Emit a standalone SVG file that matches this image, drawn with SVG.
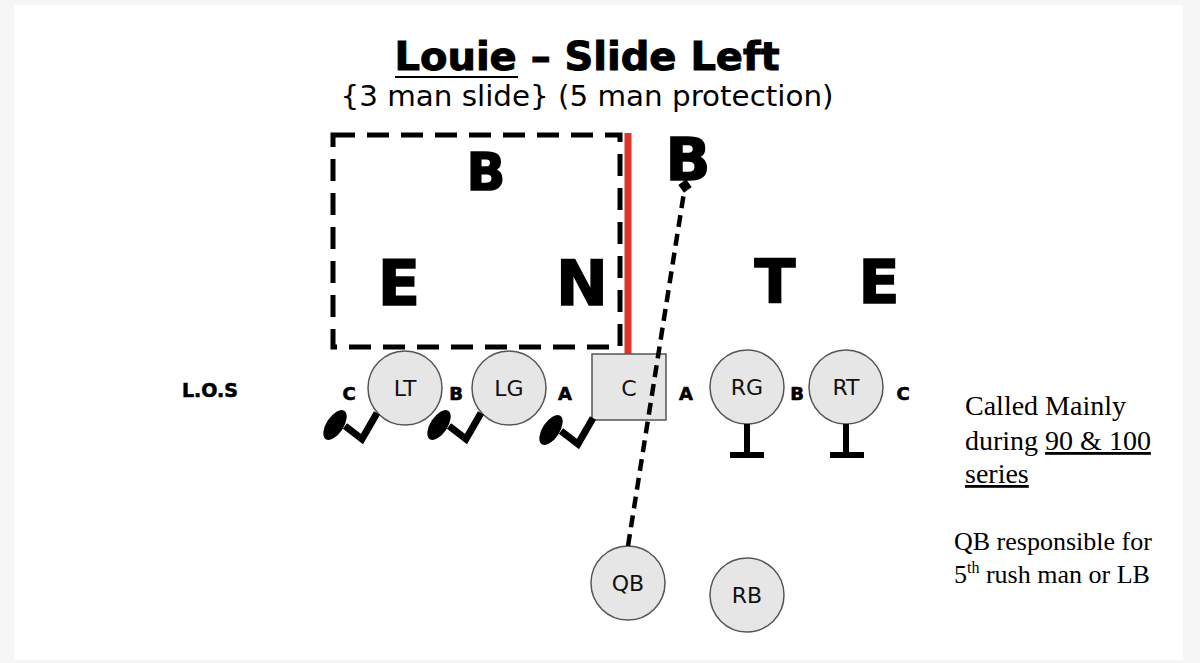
<svg xmlns="http://www.w3.org/2000/svg" width="1200" height="663" viewBox="0 0 1200 663">
<defs>
<style>
.big{font-family:"DejaVu Sans",sans-serif;font-weight:bold;text-anchor:middle;fill:#000;stroke:#000;stroke-width:1.5}
.gap{font-family:"DejaVu Sans",sans-serif;font-weight:bold;font-size:18px;text-anchor:middle;fill:#000;stroke:#000;stroke-width:0.6}
.lbl{font-family:"DejaVu Sans",sans-serif;font-size:22px;text-anchor:middle;fill:#111}
.note{font-family:"Liberation Serif",serif;font-size:28px;fill:#000}
.note2{font-family:"Liberation Serif",serif;font-size:26px;fill:#000}
.pl{fill:#e6e6e6;stroke:#555;stroke-width:1.5}
.blk{fill:none;stroke:#000;stroke-width:7;stroke-linejoin:miter}
</style>
<marker id="dia" viewBox="0 0 10 10" refX="5" refY="5" markerWidth="3" markerHeight="3" orient="auto">
<path d="M0 5 L5 0 L10 5 L5 10 Z" fill="#000"/>
</marker>
<g id="reach">
<path class="blk" d="M0 0 L-15 26 L-32 13"/>
<ellipse cx="-42" cy="12" rx="8.5" ry="17" transform="rotate(33 -42 12)" fill="#000"/>
</g>
</defs>
<rect width="1200" height="663" fill="#f6f6f6"/>
<rect x="14" y="5" width="1169" height="655" fill="#fff"/>

<g id="title">
<text x="587" y="70" font-family="DejaVu Sans,sans-serif" font-weight="bold" font-size="39" text-anchor="middle" textLength="385" lengthAdjust="spacingAndGlyphs" stroke="#000" stroke-width="1">Louie – Slide Left</text>
<line x1="395" y1="77" x2="518" y2="77" stroke="#000" stroke-width="2"/>
<text x="587" y="106" font-family="DejaVu Sans,sans-serif" font-size="29" text-anchor="middle" textLength="493" lengthAdjust="spacingAndGlyphs">{3 man slide} (5 man protection)</text>
</g>

<g id="slide-zone">
<rect x="333" y="135" width="287" height="212" fill="none" stroke="#000" stroke-width="5" stroke-dasharray="22 12"/>
<line x1="628" y1="133" x2="628" y2="354" stroke="#e0352b" stroke-width="7"/>
</g>

<g id="defense">
<text class="big" x="486" y="190" style="font-size:51px">B</text>
<text class="big" x="399" y="305" style="font-size:62px">E</text>
<text class="big" x="582" y="305" style="font-size:62px">N</text>
<text class="big" x="688" y="180" style="font-size:59px">B</text>
<text class="big" x="775" y="303" style="font-size:60px">T</text>
<text class="big" x="879" y="303" style="font-size:60px">E</text>
</g>

<g id="gaps">
<text class="gap" x="210" y="397" style="font-size:19px">L.O.S</text>
<text class="gap" x="349" y="400">C</text>
<text class="gap" x="456" y="400">B</text>
<text class="gap" x="565" y="400">A</text>
<text class="gap" x="686" y="400">A</text>
<text class="gap" x="797" y="400">B</text>
<text class="gap" x="903" y="400">C</text>
</g>

<g id="LT"><circle class="pl" cx="405" cy="388" r="37"/><text class="lbl" x="405" y="396">LT</text></g>
<g id="LG"><circle class="pl" cx="509" cy="388" r="37"/><text class="lbl" x="509" y="396">LG</text></g>
<g id="C"><rect class="pl" x="592" y="354" width="74" height="66"/><text class="lbl" x="629" y="396">C</text></g>
<g id="RG"><circle class="pl" cx="747" cy="387" r="37"/><text class="lbl" x="747" y="395">RG</text></g>
<g id="RT"><circle class="pl" cx="846" cy="387" r="37"/><text class="lbl" x="846" y="395">RT</text></g>
<g id="QB"><circle class="pl" cx="628" cy="583" r="37"/><text class="lbl" x="628" y="591">QB</text></g>
<g id="RB"><circle class="pl" cx="747" cy="595" r="37"/><text class="lbl" x="747" y="603">RB</text></g>

<g id="connectors">
<line x1="628" y1="546" x2="685" y2="186" stroke="#000" stroke-width="4.5" stroke-dasharray="12 7" marker-end="url(#dia)"/>
<use href="#reach" x="377" y="413"/>
<use href="#reach" x="481" y="413"/>
<use href="#reach" x="593" y="418"/>
<path d="M747 424 V455 M730 455 H764" stroke="#000" stroke-width="6" fill="none"/>
<path d="M846 424 V455 M830 455 H864" stroke="#000" stroke-width="6" fill="none"/>
</g>

<g id="notes">
<text class="note" x="965" y="415">Called Mainly</text>
<text class="note" x="965" y="450">during <tspan text-decoration="underline">90 &amp; 100</tspan></text>
<text class="note" x="965" y="483" text-decoration="underline">series</text>
<text class="note2" x="954" y="550">QB responsible for</text>
<text class="note2" x="954" y="583">5<tspan style="font-size:16px" dy="-10">th</tspan><tspan dy="10"> rush man or LB</tspan></text>
</g>
</svg>
